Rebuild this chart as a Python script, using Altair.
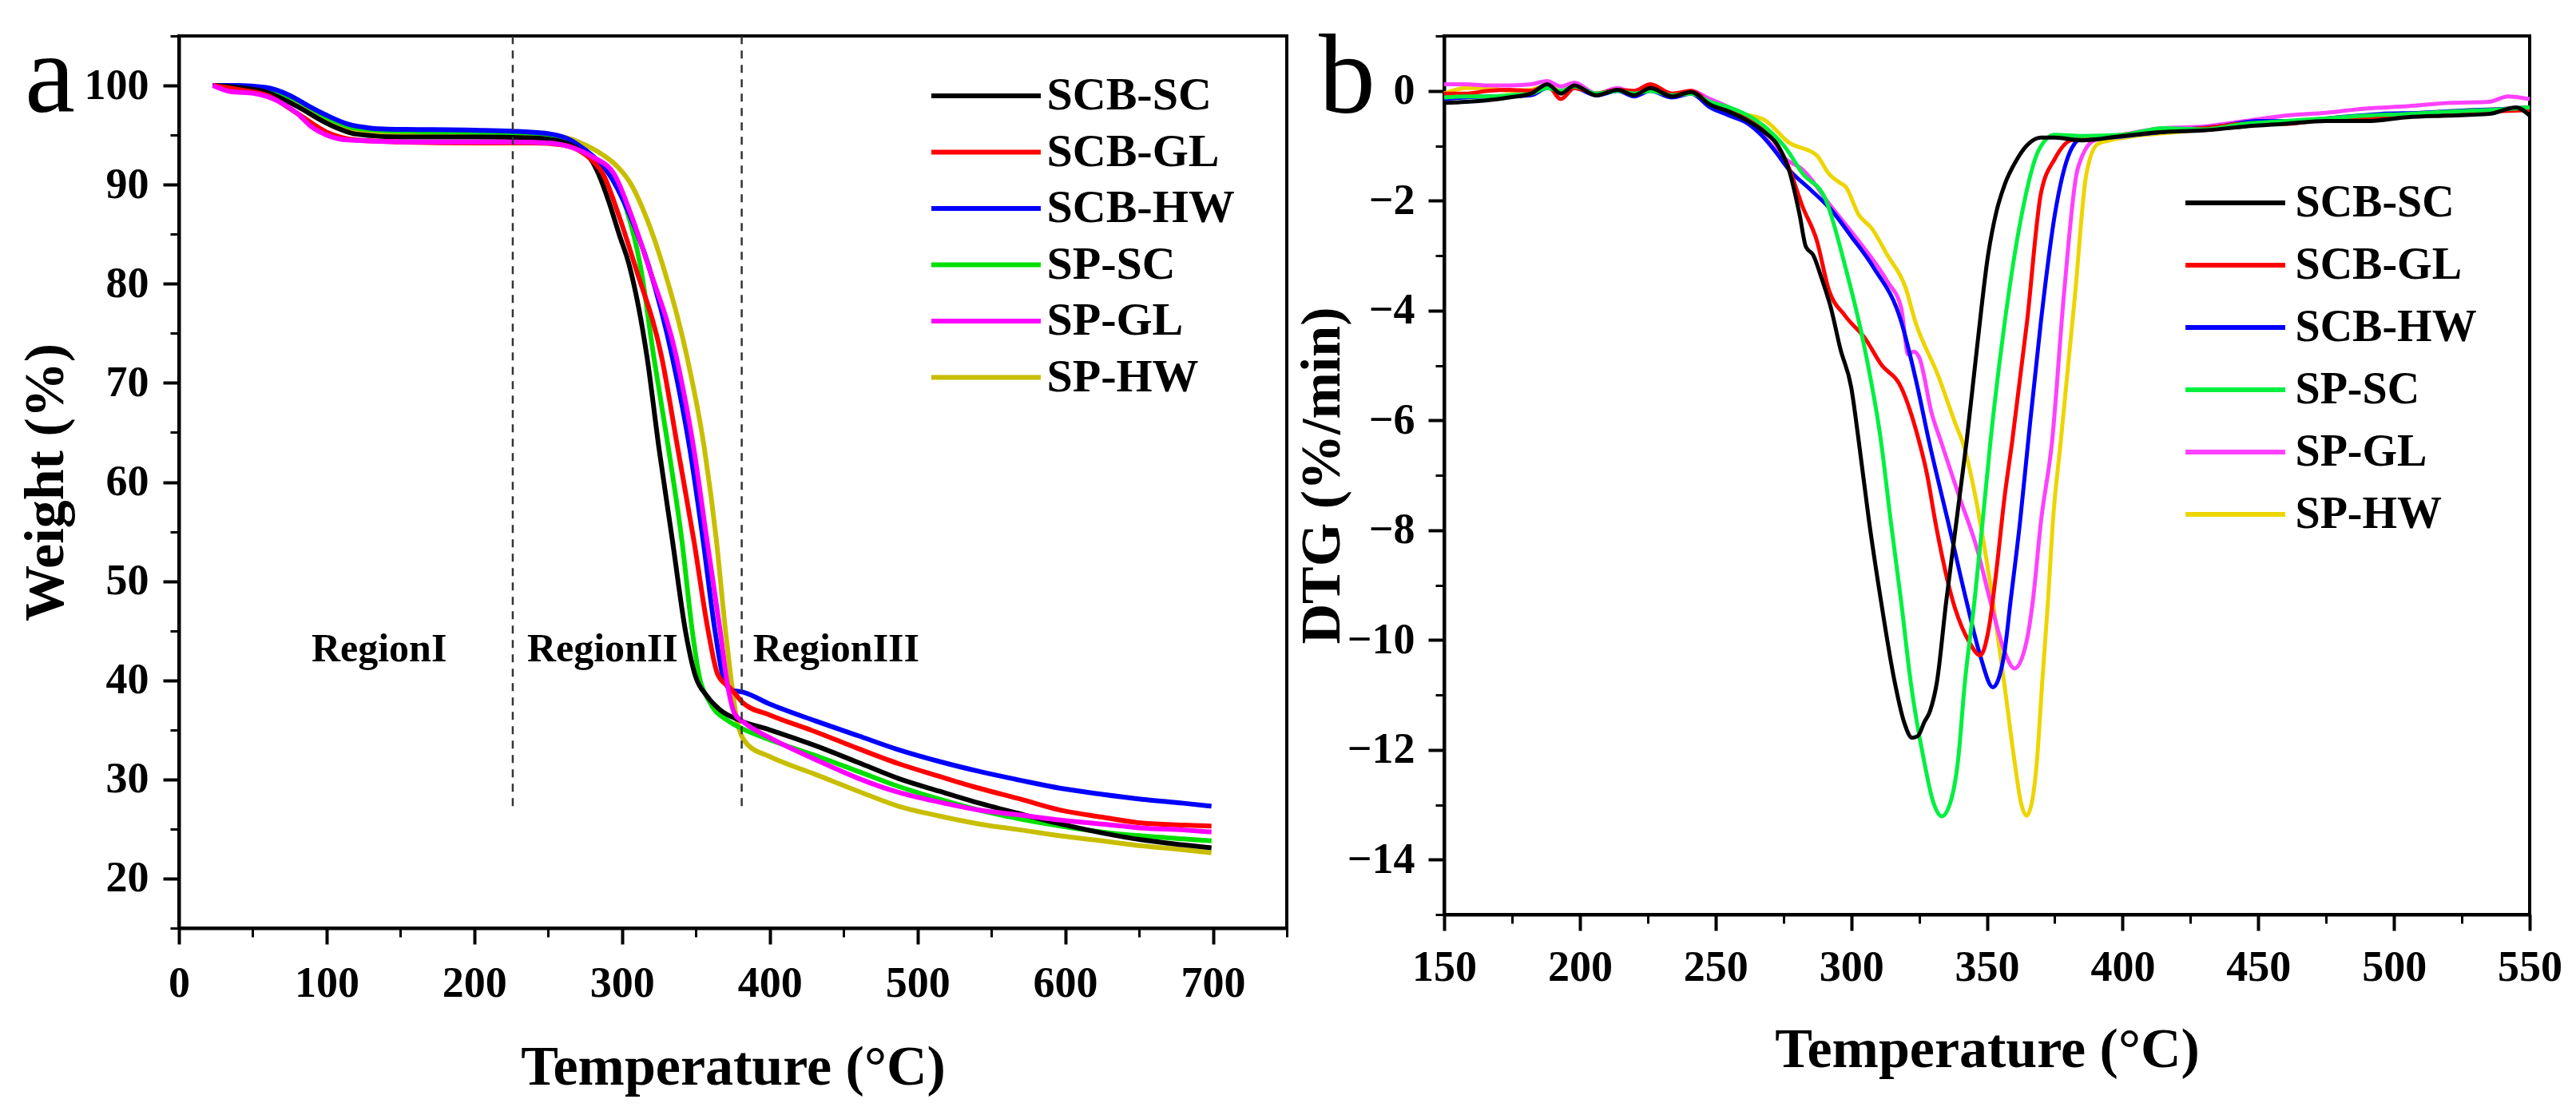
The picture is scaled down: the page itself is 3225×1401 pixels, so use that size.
import altair as alt
import pandas as pd

FONT = "Liberation Serif"
SERIES = ["SCB-SC", "SCB-GL", "SCB-HW", "SP-SC", "SP-GL", "SP-HW"]
COLORS_A = ["#000000", "#FF0000", "#0000FF", "#00E000", "#FF00FF", "#C8BE00"]
COLORS_B = ["#000000", "#FF0000", "#0000FF", "#00F040", "#FF40FF", "#EDD500"]

# ---------------- Panel a : TGA (Temperature, Weight %) ----------------
tga_T_scb_sc = [23, 40, 60, 80, 100, 120, 150, 200, 240, 260, 270, 280, 284, 291, 298, 305, 316.9, 325, 334, 343,
                349.3, 357.5, 366.5, 379, 400, 431, 460, 487, 515, 542, 570, 597, 625, 652, 680, 699]
tga_W_scb_sc = [100, 99.8, 99.3, 97.9, 96.2, 95.1, 94.8, 94.8, 94.7, 94.3, 93.6, 92.3, 91.1, 88.3, 85.0, 81.8, 72.6, 63.4, 54.2, 44.9,
                40.6, 38.4, 37.0, 36.0, 35.0, 33.4, 31.7, 30.1, 28.8, 27.6, 26.5, 25.5, 24.6, 23.9, 23.4, 23.1]

tga_T_scb_gl = [23, 40, 60, 80, 100, 120, 150, 200, 240, 260, 270, 280, 287, 298, 308.8, 326.8, 337.7, 348.5, 358.4, 364.7,
                374, 382, 400, 431, 460, 487, 515, 542, 570, 597, 625, 652, 680, 699]
tga_W_scb_gl = [100, 99.6, 99.0, 97.2, 95.3, 94.5, 94.3, 94.2, 94.2, 94.0, 93.5, 92.4, 91.1, 86.8, 81.8, 72.6, 63.4, 54.2, 44.9, 40.6,
                39.1, 37.7, 36.5, 34.8, 33.1, 31.6, 30.3, 29.1, 28.0, 26.9, 26.2, 25.6, 25.4, 25.3]

tga_T_scb_hw = [23, 40, 59, 75, 87, 100, 114.5, 130, 142, 200, 225, 252, 265, 275, 283, 291, 305, 318, 334, 345.8,
                354.8, 363, 368.5, 374, 382, 400, 431, 460, 487, 515, 542, 570, 597, 625, 652, 680, 699]
tga_W_scb_hw = [100, 100, 99.8, 99.0, 98.0, 97.0, 96.1, 95.7, 95.6, 95.5, 95.4, 95.1, 94.5, 93.5, 92.5, 91.1, 87.0, 81.8, 72.6, 63.4,
                54.2, 44.9, 40.3, 39.0, 38.8, 37.6, 35.9, 34.4, 33.0, 31.8, 30.8, 29.9, 29.1, 28.5, 28.0, 27.6, 27.3]

tga_T_sp_sc = [23, 40, 60, 80, 100, 120, 150, 200, 240, 260, 270, 280, 292.5, 303, 312.4, 321.5, 331.4, 340.4, 347.6, 352,
               359.3, 371.9, 379, 400, 431, 460, 487, 515, 542, 570, 597, 625, 652, 680, 699]
tga_W_sp_sc = [100, 99.9, 99.6, 98.5, 96.8, 95.7, 95.4, 95.3, 95.2, 94.6, 93.9, 92.8, 91.1, 87.5, 81.8, 72.6, 63.4, 54.2, 44.9, 40.6,
               37.8, 35.9, 35.3, 34.0, 32.4, 30.8, 29.3, 28.0, 26.9, 26.0, 25.3, 24.7, 24.3, 24.0, 23.8]

tga_T_sp_gl = [23, 34.5, 51, 67.5, 80, 90, 100, 114.5, 155, 225, 250, 265, 280, 294.5, 306, 317.8, 336.8, 348.5, 357.4, 366.5,
               370.9, 376.3, 382, 400, 431, 460, 487, 515, 542, 570, 597, 625, 652, 680, 699]
tga_W_sp_gl = [100, 99.4, 99.2, 98.4, 97.2, 95.8, 95.0, 94.5, 94.3, 94.3, 94.2, 93.8, 92.8, 91.1, 87.0, 81.8, 72.6, 63.4, 54.2, 44.9,
               40.0, 36.6, 35.8, 34.2, 32.0, 30.1, 28.7, 27.7, 26.9, 26.4, 25.9, 25.5, 25.1, 24.9, 24.7]

tga_T_sp_hw = [23, 40, 60, 80, 100, 120, 150, 200, 240, 260, 275, 287, 297, 305, 316.9, 327.7, 344, 355.7, 363.8, 370.1,
               378.2, 385, 400, 431, 460, 487, 515, 542, 570, 597, 625, 652, 680, 699]
tga_W_sp_hw = [100, 99.8, 99.3, 98.0, 96.3, 95.3, 95.1, 95.0, 95.0, 94.8, 94.0, 93.0, 91.8, 90.3, 86.5, 81.8, 72.6, 63.4, 54.2, 44.9,
               35.7, 33.5, 32.3, 30.5, 28.8, 27.3, 26.3, 25.5, 24.9, 24.3, 23.8, 23.3, 22.9, 22.6]

region_boundaries = [226, 381]
region_line_bottom = 27.3
region_labels = ["RegionI", "RegionII", "RegionIII"]
region_label_T = [89.7, 235.7, 388.6]
region_label_W = [41.9, 41.9, 41.9]

# ---------------- Panel b : DTG (Temperature, %/min) ----------------
dtg_T_scb_sc = [150, 158, 166, 174, 182, 188, 193, 198, 206, 214, 220, 226, 234, 241, 248, 255, 262, 268, 273, 277,
                281, 283.3, 286, 289, 292.5, 296, 300, 302.8, 306.6, 311, 316, 319.5, 322.4, 324.5, 326.9, 329, 331.6, 335, 337.5, 340,
                342.5, 346.3, 350.4, 353.5, 356.6, 360.7, 364.8, 369.9, 375, 385, 400, 415, 430, 445, 460, 475, 490, 505, 520, 535,
                545, 550]
dtg_D_scb_sc = [-0.22, -0.2, -0.17, -0.12, -0.05, 0.12, -0.05, 0.1, -0.08, 0.02, -0.08, 0.05, -0.1, -0.02, -0.25, -0.38, -0.55, -0.75, -1.0, -1.43,
                -2.26, -2.84, -2.99, -3.4, -3.95, -4.7, -5.4, -6.39, -7.85, -9.3, -10.76, -11.5, -11.78, -11.75, -11.5, -11.3, -10.76, -9.3, -8.33, -7.36,
                -6.39, -4.7, -3.0, -2.2, -1.7, -1.28, -0.99, -0.85, -0.85, -0.9, -0.82, -0.75, -0.72, -0.65, -0.6, -0.55, -0.55, -0.48, -0.45, -0.42,
                -0.3, -0.45]

dtg_T_scb_gl = [150, 158, 166, 174, 182, 188, 193, 198, 206, 214, 220, 226, 234, 241, 248, 255, 262, 268, 273, 277,
                282, 287.4, 291.6, 297.8, 305, 311, 318.4, 324, 328, 331, 337.5, 343.4, 347.5, 350.7, 353.3, 356.6, 359.3, 364.8, 369.9, 375,
                381, 390, 400, 415, 430, 445, 460, 475, 490, 505, 520, 535, 550]
dtg_D_scb_gl = [-0.05, -0.05, 0.0, 0.02, 0.0, 0.1, -0.15, 0.05, -0.05, 0.02, 0.0, 0.12, -0.05, 0.0, -0.22, -0.35, -0.5, -0.7, -1.0, -1.4,
                -2.1, -2.74, -3.6, -4.1, -4.5, -4.98, -5.4, -6.2, -7.0, -7.85, -9.3, -10.03, -10.28, -9.79, -8.82, -7.36, -6.39, -4.2, -1.87, -1.24,
                -0.9, -0.85, -0.8, -0.72, -0.68, -0.6, -0.6, -0.52, -0.5, -0.45, -0.42, -0.38, -0.35]

dtg_T_scb_hw = [150, 158, 166, 174, 182, 188, 193, 198, 206, 214, 220, 226, 234, 241, 248, 255, 262, 266.8, 272, 277,
                285, 292.5, 300, 308, 318.4, 324, 328.7, 335.7, 342.5, 347.5, 352.2, 356.3, 358.7, 362.2, 365.2, 369.9, 375, 381.3, 385.5, 395,
                405, 420, 435, 450, 465, 480, 495, 510, 525, 540, 550]
dtg_D_scb_hw = [-0.15, -0.12, -0.1, -0.1, -0.08, 0.05, -0.02, 0.05, -0.08, 0.0, -0.1, 0.0, -0.12, -0.05, -0.3, -0.45, -0.6, -0.8, -1.1, -1.43,
                -1.8, -2.16, -2.65, -3.2, -4.2, -5.3, -6.39, -7.85, -9.3, -10.28, -10.86, -10.28, -9.3, -7.85, -6.39, -4.2, -2.26, -1.04, -0.85, -0.85,
                -0.8, -0.72, -0.65, -0.55, -0.55, -0.48, -0.42, -0.4, -0.36, -0.33, -0.3]

dtg_T_sp_sc = [150, 158, 166, 174, 182, 188, 193, 198, 206, 214, 220, 226, 234, 241, 248, 255, 262, 269.5, 276, 282,
               290.4, 297.8, 305, 311, 314.6, 318.4, 321.9, 326.9, 330.2, 333.4, 336.6, 339.3, 341.9, 345.4, 348.4, 351.3, 356.6, 362.8, 369, 375,
               385, 400, 415, 430, 445, 460, 475, 490, 505, 520, 535, 550]
dtg_D_sp_sc = [-0.12, -0.1, -0.1, -0.08, -0.05, 0.05, 0.0, 0.08, -0.05, 0.0, -0.05, 0.0, -0.08, -0.05, -0.2, -0.3, -0.45, -0.71, -1.05, -1.5,
               -1.96, -3.2, -4.7, -6.39, -7.85, -9.3, -10.76, -12.22, -12.95, -13.21, -12.95, -12.22, -10.76, -9.3, -7.85, -6.39, -4.2, -2.26, -1.09, -0.8,
               -0.82, -0.8, -0.68, -0.7, -0.6, -0.55, -0.5, -0.45, -0.42, -0.38, -0.35, -0.3]

dtg_T_sp_gl = [150, 158, 166, 174, 182, 188, 193, 198, 206, 214, 220, 226, 234, 241, 248, 255, 263, 270, 276, 282,
               292.5, 302.8, 313.3, 318.4, 321, 323, 325, 329.8, 333.1, 339.6, 346.3, 351.3, 356.3, 360.2, 364.6, 366.9, 369.9, 374, 378.4, 383.4,
               389.6, 400, 415, 430, 445, 460, 475, 490, 505, 520, 535, 542, 550]
dtg_D_sp_gl = [0.12, 0.12, 0.1, 0.1, 0.12, 0.18, 0.08, 0.15, -0.05, 0.05, -0.05, 0.08, -0.08, 0.0, -0.15, -0.3, -0.6, -0.95, -1.25, -1.43,
               -2.1, -2.74, -3.47, -3.95, -4.8, -4.75, -4.85, -5.9, -6.39, -7.36, -8.33, -9.3, -10.18, -10.52, -10.03, -9.3, -7.85, -6.39, -3.7, -1.43,
               -0.9, -0.8, -0.68, -0.65, -0.55, -0.45, -0.4, -0.32, -0.28, -0.22, -0.2, -0.1, -0.15]

dtg_T_sp_hw = [150, 158, 166, 174, 182, 188, 193, 198, 206, 214, 220, 226, 234, 241, 248, 258, 268, 277, 287.4, 291.6,
               295.7, 298, 302.8, 307.5, 313.3, 320, 323.6, 331.9, 339, 341, 347.5, 352.2, 356.3, 360.2, 362.5, 364.6, 366.6, 368.4, 370.4, 372.5,
               374.3, 377.2, 382.5, 386.6, 390.8, 395.5, 405, 420, 435, 450, 465, 480, 495, 510, 525, 540, 550]
dtg_D_sp_hw = [-0.05, 0.05, 0.05, 0.0, 0.02, 0.1, 0.0, 0.05, -0.05, 0.02, -0.02, 0.05, -0.08, 0.0, -0.2, -0.4, -0.53, -0.94, -1.18, -1.5,
               -1.67, -1.75, -2.26, -2.5, -2.99, -3.58, -4.2, -5.17, -6.14, -6.39, -7.85, -9.3, -10.76, -12.22, -12.95, -13.2, -12.95, -12.22, -10.76, -9.3,
               -7.85, -6.39, -3.7, -1.53, -0.97, -0.9, -0.82, -0.75, -0.68, -0.6, -0.55, -0.48, -0.45, -0.4, -0.36, -0.33, -0.3]

# axis ticks
a_x_major = list(range(0, 701, 100))
a_x_minor = list(range(50, 751, 100))
a_y_major = list(range(20, 101, 10))
a_y_minor = list(range(15, 106, 10))
b_x_major = list(range(150, 551, 50))
b_x_minor = list(range(175, 526, 50))
b_y_major = list(range(-14, 1, 2))
b_y_minor = list(range(-15, 2, 2))


def long_df(triples, xname, yname):
    rows = []
    for name, xs, ys in triples:
        assert len(xs) == len(ys), name
        for i, (x, y) in enumerate(zip(xs, ys)):
            rows.append({"series": name, xname: x, yname: y, "i": i})
    return pd.DataFrame(rows)


tga = long_df([
    ("SP-HW", tga_T_sp_hw, tga_W_sp_hw),
    ("SP-SC", tga_T_sp_sc, tga_W_sp_sc),
    ("SCB-HW", tga_T_scb_hw, tga_W_scb_hw),
    ("SCB-SC", tga_T_scb_sc, tga_W_scb_sc),
    ("SCB-GL", tga_T_scb_gl, tga_W_scb_gl),
    ("SP-GL", tga_T_sp_gl, tga_W_sp_gl),
], "T", "W")

dtg = long_df([
    ("SP-HW", dtg_T_sp_hw, dtg_D_sp_hw),
    ("SP-GL", dtg_T_sp_gl, dtg_D_sp_gl),
    ("SCB-HW", dtg_T_scb_hw, dtg_D_scb_hw),
    ("SCB-GL", dtg_T_scb_gl, dtg_D_scb_gl),
    ("SP-SC", dtg_T_sp_sc, dtg_D_sp_sc),
    ("SCB-SC", dtg_T_scb_sc, dtg_D_scb_sc),
], "T", "D")

A_W, A_H = 1387, 1117
B_W, B_H = 1359, 1100


def major_axis(values, title, orient, label_pad, title_x, title_y, title_angle=0, baseline="alphabetic"):
    return alt.Axis(
        values=values, title=title, orient=orient, format="d",
        domainColor="black", domainWidth=4, tickColor="black", tickWidth=4, tickSize=20,
        labelFont=FONT, labelFontSize=54, labelFontWeight="bold", labelColor="black",
        labelPadding=label_pad, labelFlush=False, labelOverlap=False, grid=False,
        labelBaseline=baseline,
        titleFont=FONT, titleFontSize=70, titleFontWeight="bold", titleColor="black",
        titleX=title_x, titleY=title_y, titleAngle=title_angle, titleAlign="center",
        titleBaseline="alphabetic",
    )


def minor_axis(values, orient):
    return alt.Axis(values=values, orient=orient, labels=False, title=None, domain=False,
                    tickColor="black", tickWidth=3, tickSize=11, grid=False)


def legend(x, y, path, label_offset, symbol_offset, row_pad, font_size):
    return alt.Legend(
        orient="none", legendX=x, legendY=y, title=None, padding=0,
        symbolType=path, symbolSize=750, symbolStrokeWidth=6, symbolOffset=symbol_offset,
        labelFont=FONT, labelFontSize=font_size, labelFontWeight="bold", labelColor="black",
        labelOffset=label_offset, rowPadding=row_pad, labelLimit=600,
    )


# ---------------- build panel a ----------------
xa = alt.Scale(domain=[0, 750], nice=False, zero=False)
ya = alt.Scale(domain=[15, 105], nice=False, zero=False)

lines_a = alt.Chart(tga).mark_line(strokeWidth=6, interpolate="monotone").encode(
    x=alt.X("T:Q", scale=xa, axis=major_axis(a_x_major, "Temperature (\u00b0C)", "bottom", 65, A_W / 2, 195)),
    y=alt.Y("W:Q", scale=ya, axis=major_axis(a_y_major, "Weight (%)", "left", 18, -146, A_H / 2, 270, "middle")),
    color=alt.Color("series:N", scale=alt.Scale(domain=SERIES, range=COLORS_A),
                    legend=legend(942, 46, "M-5,0H5", 47, 39.5, 12.5, 58)),
    detail="series:N",
    order="i:Q",
)

minor_a = alt.Chart(pd.DataFrame({"T": [100], "W": [50]})).mark_point(opacity=0).encode(
    x=alt.X("T:Q", scale=xa, axis=minor_axis(a_x_minor, "bottom")),
    y=alt.Y("W:Q", scale=ya, axis=minor_axis(a_y_minor, "left")),
)

rules_a = alt.Chart(pd.DataFrame({"T": region_boundaries, "lo": [region_line_bottom] * 2, "hi": [105] * 2})).mark_rule(
    strokeDash=[10, 8], strokeWidth=2.5, color="#333333").encode(
    x=alt.X("T:Q", scale=xa, axis=None), y=alt.Y("lo:Q", scale=ya, axis=None), y2="hi:Q")

text_a = alt.Chart(pd.DataFrame({"label": region_labels, "T": region_label_T, "W": region_label_W})).mark_text(
    font=FONT, fontSize=50, fontWeight="bold", color="black", align="left", baseline="alphabetic").encode(
    x=alt.X("T:Q", scale=xa, axis=None), y=alt.Y("W:Q", scale=ya, axis=None), text="label:N")

letter_a = alt.Chart(pd.DataFrame({"t": ["a"]})).mark_text(
    font=FONT, fontSize=142, color="black", align="left", baseline="alphabetic").encode(
    x=alt.value(-193), y=alt.value(95), text="t:N")

panel_a = alt.layer(lines_a, rules_a, text_a, letter_a, minor_a).resolve_axis(
    x="independent", y="independent").properties(width=A_W, height=A_H)

# ---------------- build panel b ----------------
xb = alt.Scale(domain=[150, 550], nice=False, zero=False)
yb = alt.Scale(domain=[-15, 1], nice=False, zero=False)

lines_b = alt.Chart(dtg).mark_line(strokeWidth=5, interpolate="monotone").encode(
    x=alt.X("T:Q", scale=xb, axis=major_axis(b_x_major, "Temperature (\u00b0C)", "bottom", 62, B_W / 2, 190)),
    y=alt.Y("D:Q", scale=yb, axis=major_axis(b_y_major, "DTG (%/min)", "left", 17, -132, B_H / 2, 270, "middle")),
    color=alt.Color("series:N", scale=alt.Scale(domain=SERIES, range=COLORS_B),
                    legend=legend(928, 181, "M-4.56,0H4.56", 47, 34.5, 22, 56)),
    detail="series:N",
    order="i:Q",
)

minor_b = alt.Chart(pd.DataFrame({"T": [300], "D": [-5]})).mark_point(opacity=0).encode(
    x=alt.X("T:Q", scale=xb, axis=minor_axis(b_x_minor, "bottom")),
    y=alt.Y("D:Q", scale=yb, axis=minor_axis(b_y_minor, "left")),
)

letter_b = alt.Chart(pd.DataFrame({"t": ["b"]})).mark_text(
    font=FONT, fontSize=142, color="black", align="left", baseline="alphabetic").encode(
    x=alt.value(-157), y=alt.value(96), text="t:N")

panel_b = alt.layer(lines_b, letter_b, minor_b).resolve_axis(
    x="independent", y="independent").properties(width=B_W, height=B_H)

chart = alt.hconcat(panel_a, panel_b, spacing=197, bounds="flush").resolve_scale(
    color="independent").configure_view(stroke="black", strokeWidth=4).properties(
    padding={"left": 12, "top": 16, "right": 5, "bottom": 5})

chart.save("out.html", embed_options={"renderer": "svg", "actions": False})
